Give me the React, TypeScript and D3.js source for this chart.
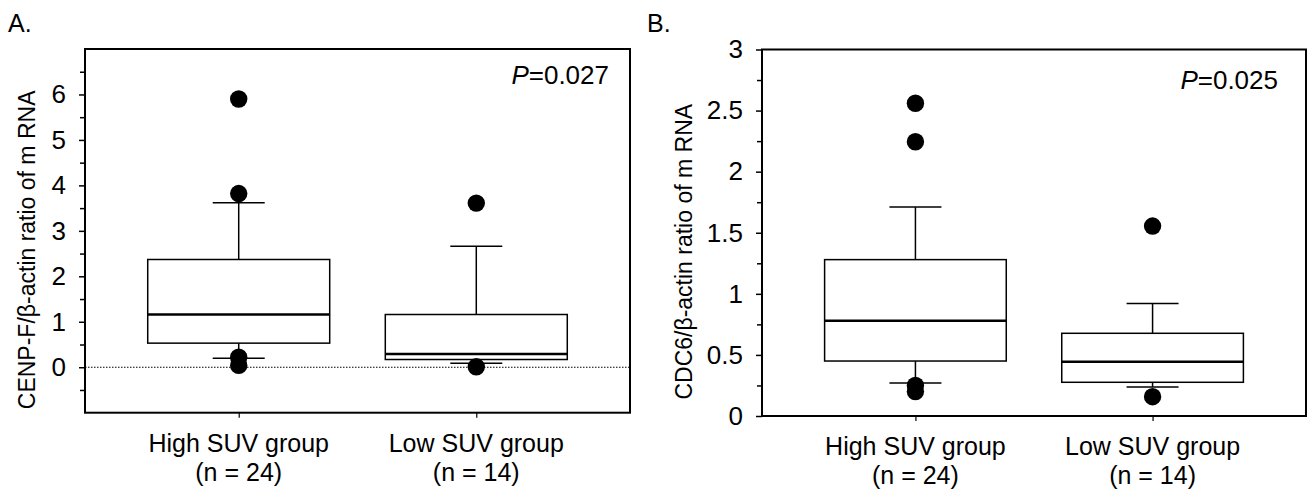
import React, { useEffect, useRef } from 'react';
import * as d3 from 'd3';

// group names shared by both panels
const groups = ['High SUV group', 'Low SUV group'];
const groupN = ['(n = 24)', '(n = 14)'];

// panel A: CENP-F / beta-actin
const cenpfStats = [
  { lo: 0.2, q1: 0.53, med: 1.16, q3: 2.37, hi: 3.62 },
  { lo: 0.09, q1: 0.17, med: 0.29, q3: 1.16, hi: 2.66 },
];
const cenpfOutliers = [
  [5.9, 3.82, 0.22, 0.04],
  [3.61, 0.01],
];
const cenpfMajor = [0, 1, 2, 3, 4, 5, 6];
const cenpfMinor = [-0.5, 0.5, 1.5, 2.5, 3.5, 4.5, 5.5, 6.5];

// panel B: CDC6 / beta-actin
const cdc6Stats = [
  { lo: 0.27, q1: 0.45, med: 0.78, q3: 1.28, hi: 1.71 },
  { lo: 0.237, q1: 0.276, med: 0.444, q3: 0.677, hi: 0.92 },
];
const cdc6Outliers = [
  [2.56, 2.245, 0.25, 0.2],
  [1.555, 0.158],
];
const cdc6Major = [0, 0.5, 1, 1.5, 2, 2.5, 3];
const cdc6Minor = [0.25, 0.75, 1.25, 1.75, 2.25, 2.75];

const FONT = '"Liberation Sans", Arial, Helvetica, sans-serif';

function drawPanel(svg, opt) {
  const { left, right, top, bottom, domain, stats, outliers, major, minor,
    yTitle, pText, pRight, pY, letter, letterX, titleX, zeroLine, labelY } = opt;

  const x = d3.scalePoint().domain(groups).range([left, right]).padding(0.647);
  const y = d3.scaleLinear().domain(domain).range([bottom, top]);
  const boxW = x.step() * 0.766;
  const capW = 26;

  const g = svg.append('g');

  // y axis, labelled ticks
  const ax = g.append('g')
    .attr('transform', `translate(${left},0)`)
    .call(d3.axisLeft(y).tickValues(major).tickSize(6).tickPadding(13).tickFormat(d => String(d)));
  ax.select('.domain').remove();
  ax.selectAll('line').attr('stroke-width', 1.5);
  ax.selectAll('text').attr('font-family', FONT).attr('font-size', 26).attr('fill', '#000');

  // minor ticks
  const mx = g.append('g')
    .attr('transform', `translate(${left},0)`)
    .call(d3.axisLeft(y).tickValues(minor).tickSize(5).tickFormat(() => ''));
  mx.select('.domain').remove();
  mx.selectAll('line').attr('stroke-width', 1.5);

  // x ticks under frame
  const bx = g.append('g')
    .attr('transform', `translate(0,${bottom})`)
    .call(d3.axisBottom(x).tickSize(5).tickFormat(() => ''));
  bx.select('.domain').remove();
  bx.selectAll('line').attr('stroke-width', 1.2);

  if (zeroLine) {
    g.append('line')
      .attr('x1', left).attr('x2', right)
      .attr('y1', y(0)).attr('y2', y(0))
      .attr('stroke', '#000').attr('stroke-width', 1.2)
      .attr('stroke-dasharray', '1.5,1.5');
  }

  const boxes = g.selectAll('.box').data(stats).enter().append('g').attr('class', 'box');
  const cx = (_, i) => x(groups[i]);

  // whiskers
  boxes.append('line')
    .attr('x1', cx).attr('x2', cx)
    .attr('y1', d => y(d.q3)).attr('y2', d => y(d.hi))
    .attr('stroke', '#000').attr('stroke-width', 1.5);
  boxes.append('line')
    .attr('x1', cx).attr('x2', cx)
    .attr('y1', d => y(d.q1)).attr('y2', d => y(d.lo))
    .attr('stroke', '#000').attr('stroke-width', 1.5);
  boxes.append('line')
    .attr('x1', (d, i) => cx(d, i) - capW).attr('x2', (d, i) => cx(d, i) + capW)
    .attr('y1', d => y(d.hi)).attr('y2', d => y(d.hi))
    .attr('stroke', '#000').attr('stroke-width', 1.5);
  boxes.append('line')
    .attr('x1', (d, i) => cx(d, i) - capW).attr('x2', (d, i) => cx(d, i) + capW)
    .attr('y1', d => y(d.lo)).attr('y2', d => y(d.lo))
    .attr('stroke', '#000').attr('stroke-width', 1.5);

  boxes.append('rect')
    .attr('x', (d, i) => cx(d, i) - boxW / 2)
    .attr('width', boxW)
    .attr('y', d => y(d.q3))
    .attr('height', d => y(d.q1) - y(d.q3))
    .attr('fill', 'none').attr('stroke', '#000').attr('stroke-width', 1.5);
  boxes.append('line')
    .attr('x1', (d, i) => cx(d, i) - boxW / 2).attr('x2', (d, i) => cx(d, i) + boxW / 2)
    .attr('y1', d => y(d.med)).attr('y2', d => y(d.med))
    .attr('stroke', '#000').attr('stroke-width', 2.5);

  // outlier dots
  outliers.forEach((vals, i) => {
    g.selectAll(null).data(vals).enter().append('circle')
      .attr('cx', x(groups[i]))
      .attr('cy', d => y(d))
      .attr('r', 8.7)
      .attr('fill', '#000');
  });

  // frame
  g.append('rect')
    .attr('x', left).attr('y', top)
    .attr('width', right - left).attr('height', bottom - top)
    .attr('fill', 'none').attr('stroke', '#000').attr('stroke-width', 2);

  // category labels
  groups.forEach((name, i) => {
    const t = g.append('text')
      .attr('x', x(name)).attr('y', labelY)
      .attr('text-anchor', 'middle')
      .attr('font-family', FONT).attr('font-size', 25);
    t.append('tspan').attr('x', x(name)).text(name);
    t.append('tspan').attr('x', x(name)).attr('dy', 29).text(groupN[i]);
  });

  // y title
  g.append('text')
    .attr('transform', `translate(${titleX},${(top + bottom) / 2 + 19}) rotate(-90)`)
    .attr('text-anchor', 'middle')
    .attr('font-family', FONT).attr('font-size', 23)
    .text(yTitle);

  // p value
  const p = g.append('text')
    .attr('x', pRight).attr('y', pY)
    .attr('text-anchor', 'end')
    .attr('font-family', FONT).attr('font-size', 26);
  p.append('tspan').attr('font-style', 'italic').text('P');
  p.append('tspan').text(pText);

  // panel letter
  g.append('text')
    .attr('x', letterX).attr('y', 32)
    .attr('font-family', FONT).attr('font-size', 25)
    .text(letter);
}

const App = () => {
  const svgRef = useRef(null);

  useEffect(() => {
    const svg = d3.select(svgRef.current);
    svg.selectAll('*').remove();

    drawPanel(svg, {
      left: 85, right: 630, top: 49, bottom: 412.7,
      domain: [-1, 7], stats: cenpfStats, outliers: cenpfOutliers,
      major: cenpfMajor, minor: cenpfMinor,
      yTitle: 'CENP-F/β-actin ratio of m RNA', titleX: 35,
      pText: '=0.027', pRight: 609, pY: 84,
      letter: 'A.', letterX: 8, zeroLine: true, labelY: 452,
    });

    drawPanel(svg, {
      left: 762, right: 1306, top: 49.5, bottom: 416,
      domain: [0, 3], stats: cdc6Stats, outliers: cdc6Outliers,
      major: cdc6Major, minor: cdc6Minor,
      yTitle: 'CDC6/β-actin ratio of m RNA', titleX: 692,
      pText: '=0.025', pRight: 1278, pY: 89,
      letter: 'B.', letterX: 647, zeroLine: false, labelY: 455,
    });
  }, []);

  return (
    <svg ref={svgRef} width={1307} height={491}
      style={{ position: 'absolute', left: 0, top: 0, background: '#fff' }} />
  );
};

export default App;
